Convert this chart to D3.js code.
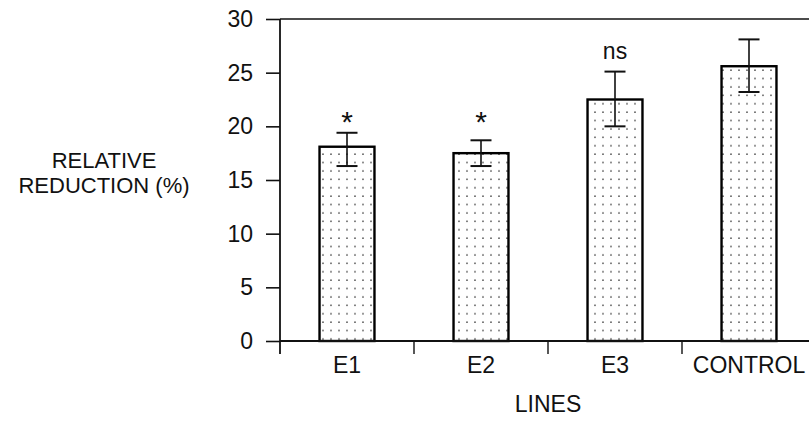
<!DOCTYPE html>
<html>
<head>
<meta charset="utf-8">
<script src="https://cdn.jsdelivr.net/npm/d3@7"></script>
<style>
  html, body { margin: 0; padding: 0; background: #fff; }
  svg { display: block; font-family: "Liberation Sans", Arial, sans-serif; }
</style>
</head>
<body>
<svg id="chart" width="809" height="425"></svg>
<script>
// data
const lines = ['E1', 'E2', 'E3', 'CONTROL'];
const means = [18.1, 17.5, 22.5, 25.6];
const errLow = [16.3, 16.3, 20.0, 23.2];
const errHigh = [19.4, 18.7, 25.1, 28.1];
const sigLabels = ['*', '*', 'ns', ''];
const sigLevel = [21.1, 21.1, 26.9, null];
const yTicks = [0, 5, 10, 15, 20, 25, 30];

const svg = d3.select('#chart');
const plotLeft = 280, plotRight = 816, plotTop = 19, plotBottom = 341;

const x = d3.scaleBand()
    .domain(lines)
    .range([plotLeft, plotRight])
    .paddingInner(0.59)
    .paddingOuter(0.295);

const y = d3.scaleLinear()
    .domain([0, 30])
    .range([plotBottom, plotTop]);

// dotted fill
const pat = svg.append('defs').append('pattern')
    .attr('id', 'dots')
    .attr('patternUnits', 'userSpaceOnUse')
    .attr('width', 8)
    .attr('height', 8.4);
pat.append('rect').attr('width', 8).attr('height', 8.4).attr('fill', '#fff');
pat.append('circle').attr('cx', 3).attr('cy', 3).attr('r', 0.8).attr('fill', '#444');

// top border
svg.append('line')
    .attr('x1', plotLeft).attr('x2', plotRight)
    .attr('y1', plotTop).attr('y2', plotTop)
    .attr('stroke', '#111').attr('stroke-width', 1.6);

// bars
svg.append('g').selectAll('rect')
    .data(lines)
    .enter()
    .append('rect')
    .attr('x', d => x(d))
    .attr('y', (d, i) => y(means[i]))
    .attr('width', x.bandwidth())
    .attr('height', (d, i) => y(0) - y(means[i]))
    .attr('fill', 'url(#dots)')
    .attr('stroke', '#000')
    .attr('stroke-width', 2.4);

// error bars
const eb = svg.append('g').selectAll('g')
    .data(lines)
    .enter()
    .append('g')
    .attr('transform', d => `translate(${x(d) + x.bandwidth() / 2},0)`);

eb.append('line')
    .attr('y1', (d, i) => y(errLow[i]))
    .attr('y2', (d, i) => y(errHigh[i]))
    .attr('stroke', '#111').attr('stroke-width', 1.6);
eb.append('line')
    .attr('x1', -10.5).attr('x2', 10.5)
    .attr('y1', (d, i) => y(errHigh[i])).attr('y2', (d, i) => y(errHigh[i]))
    .attr('stroke', '#111').attr('stroke-width', 2);
eb.append('line')
    .attr('x1', -10.5).attr('x2', 10.5)
    .attr('y1', (d, i) => y(errLow[i])).attr('y2', (d, i) => y(errLow[i]))
    .attr('stroke', '#111').attr('stroke-width', 2);

// significance marks
eb.append('text')
    .attr('text-anchor', 'middle')
    .attr('y', (d, i) => sigLevel[i] == null ? 0 : y(sigLevel[i]))
    .attr('dy', (d, i) => sigLabels[i] === '*' ? '0.57em' : '0.3em')
    .attr('font-size', (d, i) => sigLabels[i] === '*' ? 30 : 23)
    .attr('fill', '#111')
    .text((d, i) => sigLabels[i]);

// y axis
const yAxis = svg.append('g')
    .attr('transform', `translate(${plotLeft},0)`)
    .call(d3.axisLeft(y).tickValues(yTicks).tickSize(14).tickPadding(13));
yAxis.select('.domain').remove();
yAxis.selectAll('.tick line').attr('stroke', '#111').attr('stroke-width', 1.6);
yAxis.selectAll('.tick text')
    .attr('font-size', 23)
    .attr('font-family', '"Liberation Sans", Arial, sans-serif')
    .attr('fill', '#111');
svg.append('line')
    .attr('x1', plotLeft).attr('x2', plotLeft)
    .attr('y1', plotTop).attr('y2', plotBottom + 13)
    .attr('stroke', '#111').attr('stroke-width', 1.8);

// x axis
svg.append('line')
    .attr('x1', plotLeft).attr('x2', plotRight)
    .attr('y1', plotBottom).attr('y2', plotBottom)
    .attr('stroke', '#111').attr('stroke-width', 1.8);
const bounds = lines.slice(1).map(d => x(d) - x.step() * x.paddingInner() / 2);
svg.append('g').selectAll('line')
    .data(bounds)
    .enter()
    .append('line')
    .attr('x1', d => d).attr('x2', d => d)
    .attr('y1', plotBottom).attr('y2', plotBottom + 13)
    .attr('stroke', '#111').attr('stroke-width', 1.4);
svg.append('g').selectAll('text')
    .data(lines)
    .enter()
    .append('text')
    .attr('x', d => x(d) + x.bandwidth() / 2)
    .attr('y', 373)
    .attr('text-anchor', 'middle')
    .attr('font-size', 23)
    .attr('fill', '#111')
    .text(d => d);

// axis titles
svg.append('text')
    .attr('x', (plotLeft + plotRight) / 2).attr('y', 412)
    .attr('text-anchor', 'middle')
    .attr('font-size', 23)
    .attr('fill', '#111')
    .text('LINES');
svg.append('text')
    .attr('x', 104).attr('y', 168)
    .attr('text-anchor', 'middle')
    .attr('font-size', 22)
    .attr('fill', '#111')
    .text('RELATIVE');
svg.append('text')
    .attr('x', 104).attr('y', 193)
    .attr('text-anchor', 'middle')
    .attr('font-size', 22)
    .attr('fill', '#111')
    .text('REDUCTION (%)');
</script>
</body>
</html>
